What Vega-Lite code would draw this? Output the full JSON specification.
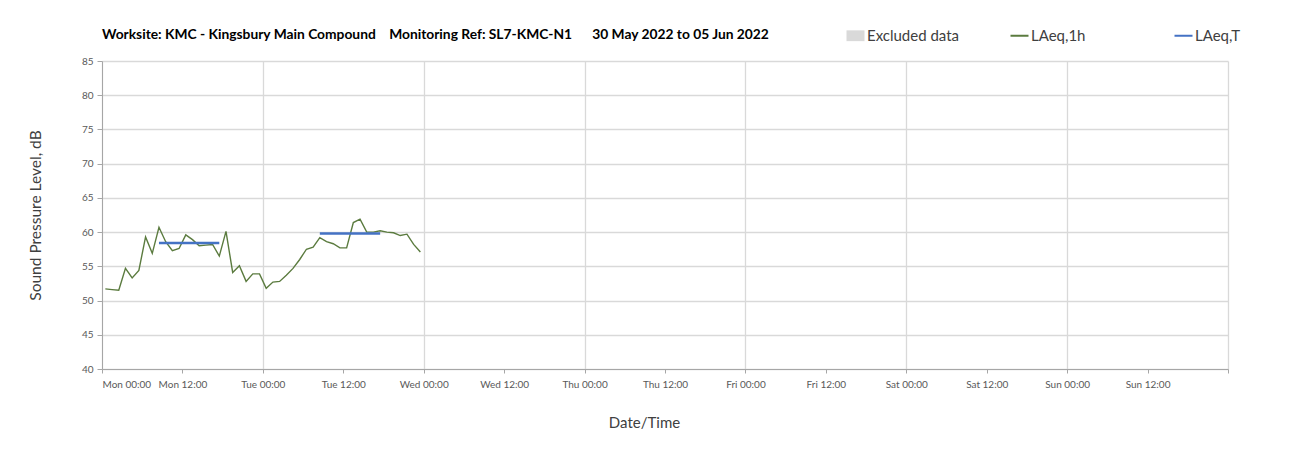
{
  "$schema": "https://vega.github.io/schema/vega-lite/v6.json",
  "width": 1126,
  "height": 308,
  "autosize": {"type": "none"},
  "padding": {"left": 102, "top": 61, "right": 67, "bottom": 85},
  "background": "white",
  "config": {
    "font": "Lato",
    "view": {"stroke": null},
    "axis": {"labelColor": "#595959", "titleColor": "#404040", "titleFontWeight": "normal", "domainColor": "#a6a6a6", "tickColor": "#a6a6a6", "gridColor": "#d9d9d9", "gridWidth": 1.3}
  },
  "title": {
    "text": "Worksite: KMC - Kingsbury Main Compound\u00a0\u00a0\u00a0\u00a0Monitoring Ref: SL7-KMC-N1\u00a0\u00a0\u00a0\u00a0\u00a0\u00a030 May 2022 to 05 Jun 2022",
    "anchor": "start",
    "frame": "group",
    "fontSize": 13.8,
    "fontWeight": "bold",
    "color": "#000000",
    "offset": -14
  },
  "data": {
    "values": [
      {"time": "2022-05-30T00:30:00Z", "value": 51.7, "series": "LAeq,1h", "period": "A"},
      {"time": "2022-05-30T01:30:00Z", "value": 51.6, "series": "LAeq,1h", "period": "A"},
      {"time": "2022-05-30T02:30:00Z", "value": 51.5, "series": "LAeq,1h", "period": "A"},
      {"time": "2022-05-30T03:30:00Z", "value": 54.7, "series": "LAeq,1h", "period": "A"},
      {"time": "2022-05-30T04:30:00Z", "value": 53.3, "series": "LAeq,1h", "period": "A"},
      {"time": "2022-05-30T05:30:00Z", "value": 54.4, "series": "LAeq,1h", "period": "A"},
      {"time": "2022-05-30T06:30:00Z", "value": 59.3, "series": "LAeq,1h", "period": "A"},
      {"time": "2022-05-30T07:30:00Z", "value": 56.9, "series": "LAeq,1h", "period": "A"},
      {"time": "2022-05-30T08:30:00Z", "value": 60.7, "series": "LAeq,1h", "period": "A"},
      {"time": "2022-05-30T09:30:00Z", "value": 58.6, "series": "LAeq,1h", "period": "A"},
      {"time": "2022-05-30T10:30:00Z", "value": 57.3, "series": "LAeq,1h", "period": "A"},
      {"time": "2022-05-30T11:30:00Z", "value": 57.6, "series": "LAeq,1h", "period": "A"},
      {"time": "2022-05-30T12:30:00Z", "value": 59.6, "series": "LAeq,1h", "period": "A"},
      {"time": "2022-05-30T13:30:00Z", "value": 58.9, "series": "LAeq,1h", "period": "A"},
      {"time": "2022-05-30T14:30:00Z", "value": 58.0, "series": "LAeq,1h", "period": "A"},
      {"time": "2022-05-30T15:30:00Z", "value": 58.1, "series": "LAeq,1h", "period": "A"},
      {"time": "2022-05-30T16:30:00Z", "value": 58.2, "series": "LAeq,1h", "period": "A"},
      {"time": "2022-05-30T17:30:00Z", "value": 56.5, "series": "LAeq,1h", "period": "A"},
      {"time": "2022-05-30T18:30:00Z", "value": 60.1, "series": "LAeq,1h", "period": "A"},
      {"time": "2022-05-30T19:30:00Z", "value": 54.1, "series": "LAeq,1h", "period": "A"},
      {"time": "2022-05-30T20:30:00Z", "value": 55.1, "series": "LAeq,1h", "period": "A"},
      {"time": "2022-05-30T21:30:00Z", "value": 52.8, "series": "LAeq,1h", "period": "A"},
      {"time": "2022-05-30T22:30:00Z", "value": 53.9, "series": "LAeq,1h", "period": "A"},
      {"time": "2022-05-30T23:30:00Z", "value": 53.9, "series": "LAeq,1h", "period": "A"},
      {"time": "2022-05-31T00:30:00Z", "value": 51.8, "series": "LAeq,1h", "period": "A"},
      {"time": "2022-05-31T01:30:00Z", "value": 52.7, "series": "LAeq,1h", "period": "A"},
      {"time": "2022-05-31T02:30:00Z", "value": 52.8, "series": "LAeq,1h", "period": "A"},
      {"time": "2022-05-31T03:30:00Z", "value": 53.7, "series": "LAeq,1h", "period": "A"},
      {"time": "2022-05-31T04:30:00Z", "value": 54.7, "series": "LAeq,1h", "period": "A"},
      {"time": "2022-05-31T05:30:00Z", "value": 56.0, "series": "LAeq,1h", "period": "A"},
      {"time": "2022-05-31T06:30:00Z", "value": 57.5, "series": "LAeq,1h", "period": "A"},
      {"time": "2022-05-31T07:30:00Z", "value": 57.8, "series": "LAeq,1h", "period": "A"},
      {"time": "2022-05-31T08:30:00Z", "value": 59.2, "series": "LAeq,1h", "period": "A"},
      {"time": "2022-05-31T09:30:00Z", "value": 58.6, "series": "LAeq,1h", "period": "A"},
      {"time": "2022-05-31T10:30:00Z", "value": 58.3, "series": "LAeq,1h", "period": "A"},
      {"time": "2022-05-31T11:30:00Z", "value": 57.7, "series": "LAeq,1h", "period": "A"},
      {"time": "2022-05-31T12:30:00Z", "value": 57.7, "series": "LAeq,1h", "period": "A"},
      {"time": "2022-05-31T13:30:00Z", "value": 61.4, "series": "LAeq,1h", "period": "A"},
      {"time": "2022-05-31T14:30:00Z", "value": 61.9, "series": "LAeq,1h", "period": "A"},
      {"time": "2022-05-31T15:30:00Z", "value": 60.0, "series": "LAeq,1h", "period": "A"},
      {"time": "2022-05-31T16:30:00Z", "value": 60.0, "series": "LAeq,1h", "period": "A"},
      {"time": "2022-05-31T17:30:00Z", "value": 60.2, "series": "LAeq,1h", "period": "A"},
      {"time": "2022-05-31T18:30:00Z", "value": 60.0, "series": "LAeq,1h", "period": "A"},
      {"time": "2022-05-31T19:30:00Z", "value": 59.9, "series": "LAeq,1h", "period": "A"},
      {"time": "2022-05-31T20:30:00Z", "value": 59.5, "series": "LAeq,1h", "period": "A"},
      {"time": "2022-05-31T21:30:00Z", "value": 59.7, "series": "LAeq,1h", "period": "A"},
      {"time": "2022-05-31T22:30:00Z", "value": 58.2, "series": "LAeq,1h", "period": "A"},
      {"time": "2022-05-31T23:30:00Z", "value": 57.1, "series": "LAeq,1h", "period": "A"},
      {"time": "2022-05-30T08:30:00Z", "value": 58.4, "series": "LAeq,T", "period": "Mon"},
      {"time": "2022-05-30T17:30:00Z", "value": 58.4, "series": "LAeq,T", "period": "Mon"},
      {"time": "2022-05-31T08:30:00Z", "value": 59.8, "series": "LAeq,T", "period": "Tue"},
      {"time": "2022-05-31T17:30:00Z", "value": 59.8, "series": "LAeq,T", "period": "Tue"}
    ]
  },
  "encoding": {
    "x": {
      "field": "time",
      "type": "temporal",
      "scale": {"type": "utc", "domain": [1653868800000, 1654473600000]},
      "axis": {
        "title": "Date/Time",
        "titleFontSize": 15,
        "titlePadding": 26,
        "titleX": 542,
        "values": [1653868800000, 1653912000000, 1653955200000, 1653998400000, 1654041600000, 1654084800000, 1654128000000, 1654171200000, 1654214400000, 1654257600000, 1654300800000, 1654344000000, 1654387200000, 1654430400000, 1654473600000],
        "labelExpr": "datum.value >= 1654473600000 ? '' : utcFormat(datum.value, '%a %H:%M')",
        "labelFontSize": 10,
        "labelPadding": 6,
        "tickSize": 4,
        "grid": true,
        "gridColor": {"condition": {"test": "utchours(datum.value) === 0", "value": "#d9d9d9"}, "value": "transparent"}
      }
    },
    "y": {
      "field": "value",
      "type": "quantitative",
      "scale": {"domain": [40, 85], "nice": false, "zero": false},
      "axis": {
        "title": "Sound Pressure Level, dB",
        "titleFontSize": 15.5,
        "titlePadding": 38,
        "values": [40, 45, 50, 55, 60, 65, 70, 75, 80, 85],
        "labelFontSize": 10,
        "labelPadding": 4,
        "tickSize": 5,
        "grid": true
      }
    },
    "color": {
      "field": "series",
      "type": "nominal",
      "scale": {"domain": ["Excluded data", "LAeq,1h", "LAeq,T"], "range": ["#d9d9d9", "#5b7b3f", "#4472c4"]},
      "legend": {
        "title": null,
        "orient": "none",
        "direction": "horizontal",
        "legendX": 746,
        "legendY": -33,
        "labelFontSize": 15,
        "labelColor": "#404040",
        "symbolSize": 324,
        "symbolType": "stroke",
        "symbolStrokeWidth": 2,
        "labelOffset": 4,
        "columnPadding": 46,
        "gridAlign": "all",
        "encode": {
          "symbols": {
            "update": {
              "shape": {"signal": "datum.value === 'Excluded data' ? 'M-1,-0.6H1V0.6H-1Z' : 'stroke'"},
              "fill": {"signal": "datum.value === 'Excluded data' ? '#d9d9d9' : 'transparent'"},
              "strokeWidth": {"signal": "datum.value === 'Excluded data' ? 0 : 2"}
            }
          }
        }
      }
    },
    "detail": {"field": "period"}
  },
  "layer": [
    {"transform": [{"filter": "datum.series === 'LAeq,1h'"}], "mark": {"type": "line", "strokeWidth": 1.4}},
    {"transform": [{"filter": "datum.series === 'LAeq,T'"}], "mark": {"type": "line", "strokeWidth": 2.6}}
  ]
}
